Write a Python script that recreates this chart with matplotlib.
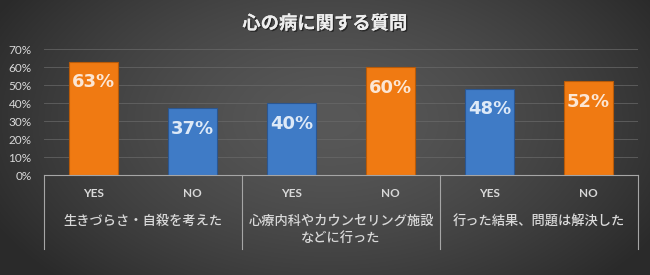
import numpy as np
import matplotlib
matplotlib.use("Agg")
import matplotlib.pyplot as plt
import matplotlib.transforms as mtransforms
import matplotlib.patheffects as pe
from matplotlib.lines import Line2D

plt.rcParams['font.family'] = ['Lato', 'Noto Sans CJK JP', 'DejaVu Sans']

# ---- data ----
title = '心の病に関する質問'
groups = ['生きづらさ・自殺を考えた', '心療内科やカウンセリング施設\nなどに行った', '行った結果、問題は解決した']
answers = ['YES', 'NO']
values = [63, 37, 40, 60, 48, 52]
yticks = [0, 10, 20, 30, 40, 50, 60, 70]

# ---- style ----
ORANGE = '#F07A12'
BLUE = '#3F7BC6'
bar_colors = [ORANGE, BLUE, BLUE, ORANGE, BLUE, ORANGE]
label_colors = {ORANGE: '#FCE6D4', BLUE: '#DDE9F7'}
edge_colors = {ORANGE: '#B85A08', BLUE: '#2B5690'}

W, H = 650, 275
fig = plt.figure(figsize=(W / 100, H / 100), dpi=100)

# background radial gradient
bg = fig.add_axes([0, 0, 1, 1], zorder=-10)
yy, xx = np.mgrid[0:H, 0:W]
r = np.sqrt(((xx - 330) / 380.0) ** 2 + ((yy - 120) / 230.0) ** 2)
r = np.clip(r, 0, 1)
c0 = np.array([0x58, 0x58, 0x58]) / 255.0
c1 = np.array([0x2a, 0x2a, 0x2a]) / 255.0
img = c0[None, None, :] * (1 - r[..., None] ** 1.5) + c1[None, None, :] * (r[..., None] ** 1.5)
bg.imshow(img, aspect='auto', extent=[0, 1, 0, 1], origin='upper')
bg.set_axis_off()

left, right = 44 / W, 638 / W
bottom, top = (H - 175) / H, (H - 49) / H
ax = fig.add_axes([left, bottom, right - left, top - bottom])
ax.set_facecolor('none')

n = len(values)
x = np.arange(n)
bars = ax.bar(x, values, width=0.5, color=bar_colors,
              edgecolor=[edge_colors[c] for c in bar_colors], linewidth=0.8, zorder=3)
for xi, v, c in zip(x, values, bar_colors):
    ax.annotate(f'{v}%', (xi, v), xytext=(0, -15), textcoords='offset points',
                ha='center', va='center', fontsize=13, fontweight='bold',
                family='DejaVu Sans', color=label_colors[c], zorder=4)

ax.set_xlim(-0.5, n - 0.5)
ax.set_ylim(0, 70)
ax.set_yticks(yticks)
ax.set_yticklabels([f'{t}%' for t in yticks])
ax.tick_params(axis='y', length=0, pad=9, labelsize=8.5, labelcolor='#D9D9D9')
ax.set_xticks([])
ax.grid(axis='y', color='#6a6a6a', linewidth=0.7, alpha=0.7, zorder=0)
for s in ['top', 'right', 'left']:
    ax.spines[s].set_visible(False)
ax.spines['bottom'].set_color('#A6A6A6')
ax.spines['bottom'].set_linewidth(0.8)
ax.spines['bottom'].set_zorder(5)

# multi-level category axis
trans = mtransforms.blended_transform_factory(ax.transData, ax.transAxes)
for i in range(n):
    ax.text(x[i], -0.143, answers[i % 2], transform=trans, ha='center', va='center',
            fontsize=8.5, fontweight='bold', color='#D9D9D9')
for g, name in enumerate(groups):
    xc = 2 * g + 0.5
    ax.text(xc, -0.315, name, transform=trans, ha='center', va='top',
            fontsize=9.5, fontweight='medium', color='#D9D9D9', linespacing=1.35)
for b in range(len(groups) + 1):
    xb = 2 * b - 0.5
    ax.add_line(Line2D([xb, xb], [0, -0.587], transform=trans, color='#A6A6A6',
                       linewidth=0.8, clip_on=False))

fig.text(0.5, (H - 23) / H, title, ha='center', va='center', fontsize=13.2,
         fontweight='bold', color='#EDEDED',
         path_effects=[pe.withSimplePatchShadow(offset=(1, -1), shadow_rgbFace='#111111', alpha=0.6),
                       pe.Normal()])

fig.savefig('out.png', dpi=100)
